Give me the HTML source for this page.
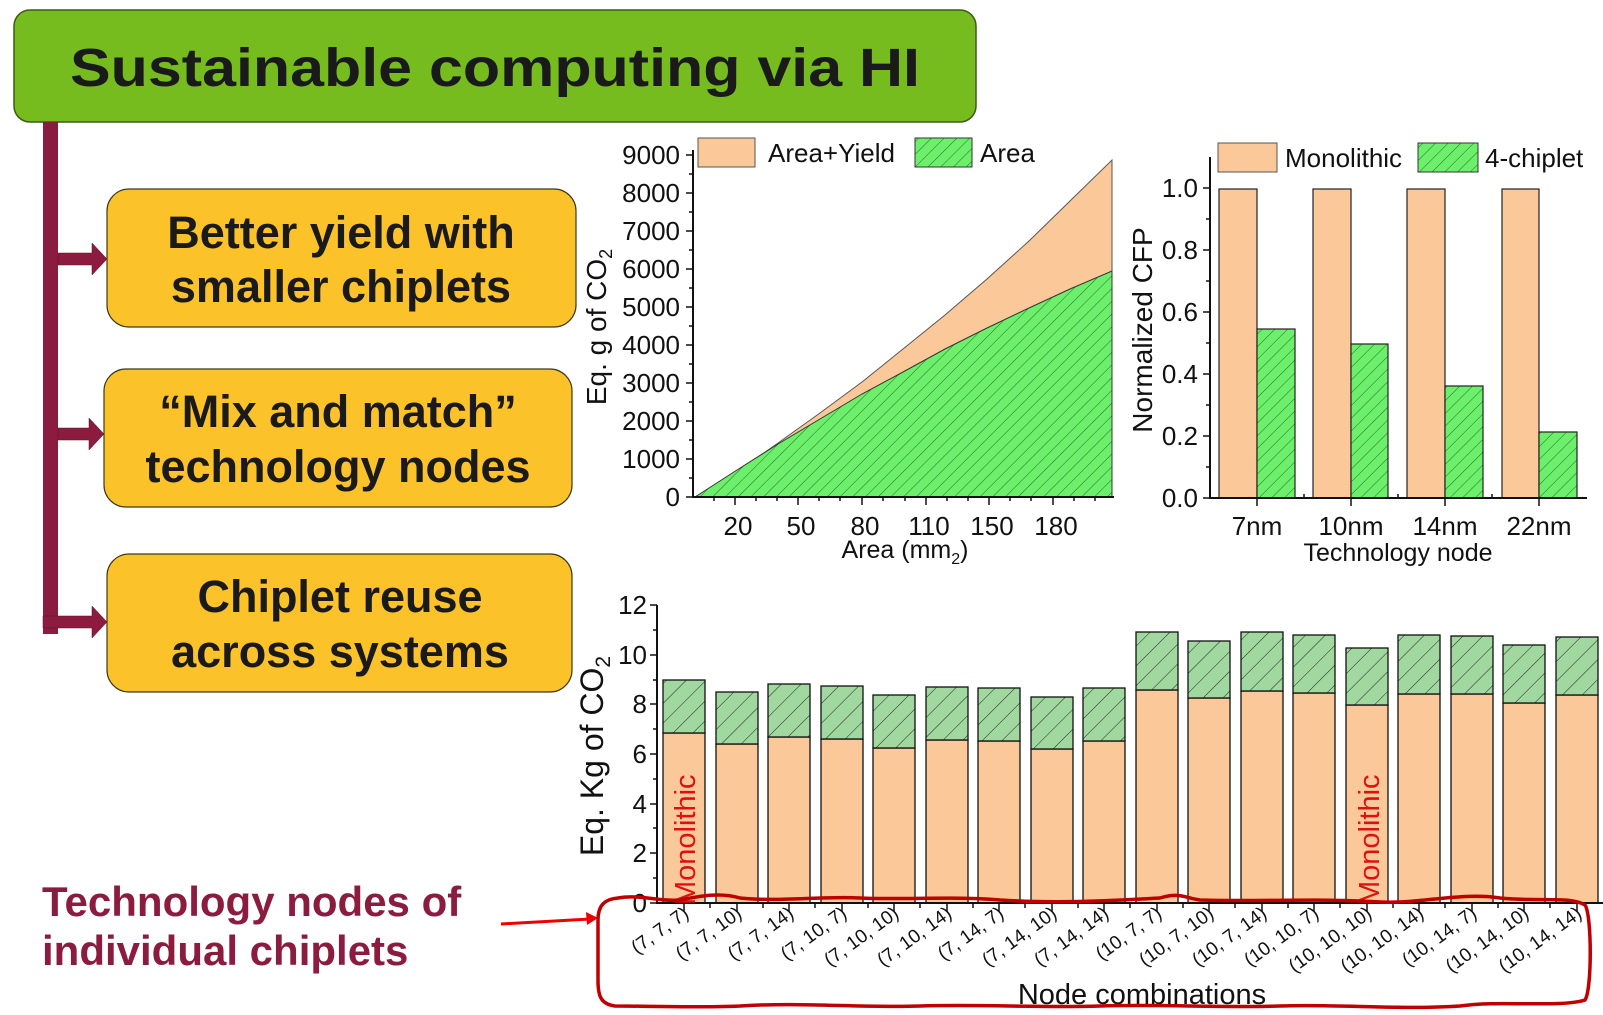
<!DOCTYPE html>
<html><head><meta charset="utf-8"><style>
html,body{margin:0;padding:0;background:#fff;}
svg{display:block;font-family:"Liberation Sans",Arial,sans-serif;}
</style></head><body>
<svg width="1603" height="1015" viewBox="0 0 1603 1015" xmlns="http://www.w3.org/2000/svg">
<defs>
<pattern id="h1" patternUnits="userSpaceOnUse" width="9" height="9" patternTransform="rotate(45)">
<rect width="9" height="9" fill="#6cf06c"/><line x1="0" y1="0" x2="0" y2="9" stroke="#2a6a2a" stroke-width="1"/></pattern>
<pattern id="h2" patternUnits="userSpaceOnUse" width="14" height="14" patternTransform="rotate(45)">
<rect width="14" height="14" fill="#a0d8a0"/><line x1="0" y1="0" x2="0" y2="14" stroke="#222" stroke-width="1"/></pattern>
</defs>

<!-- Title -->
<rect x="14" y="10" width="962" height="112" rx="16" fill="#77bc1f" stroke="#3d5c14" stroke-width="1.5"/>
<text x="495" y="86" text-anchor="middle" font-size="54" font-weight="bold" fill="#1a1a1a" textLength="850" lengthAdjust="spacingAndGlyphs">Sustainable computing via HI</text>

<!-- trunk and arrows -->
<rect x="43" y="122" width="15" height="512" fill="#8b1c40"/>
<g fill="#8b1c40" stroke="#5a1028" stroke-width="0.5">
<path d="M58 253 H92 V243 L107 259 L92 275 V265 H58 Z"/>
<path d="M58 428 H89 V418 L104 434 L89 450 V440 H58 Z"/>
<path d="M43 616 H92 V606 L107 622 L92 638 V628 H43 Z"/>
</g>

<!-- Yellow boxes -->
<g fill="#fcc22a" stroke="#3a3a1a" stroke-width="1.2">
<rect x="107" y="189" width="469" height="138" rx="22"/>
<rect x="104" y="369" width="468" height="138" rx="22"/>
<rect x="107" y="554" width="465" height="138" rx="22"/>
</g>
<g font-size="45" font-weight="bold" fill="#1a1a1a" text-anchor="middle">
<text x="341" y="248">Better yield with</text>
<text x="341" y="302">smaller chiplets</text>
<text x="338" y="427">“Mix and match”</text>
<text x="338" y="482">technology nodes</text>
<text x="340" y="612">Chiplet reuse</text>
<text x="340" y="667">across systems</text>
</g>

<!-- Bottom-left label -->
<g font-size="42" font-weight="bold" fill="#8b1c40">
<text x="42" y="916">Technology nodes of</text>
<text x="42" y="965">individual chiplets</text>
</g>
<line x1="501" y1="924" x2="590" y2="919" stroke="#e00" stroke-width="3"/>
<path d="M598 918 L586 912 L587 925 Z" fill="#e00"/>

<!-- Chart 1 -->
<path d="M695 497 L737 472 L778 443 L820 413 L862 382 L903 349 L945 315 L987 279 L1029 241 L1070 201 L1112 160 L1112 497 Z" fill="#fbc89a" stroke="#555" stroke-width="1"/>
<path d="M695 497 L737 470 L778 444 L820 419 L862 394 L903 372 L945 349 L987 328 L1029 308 L1070 289 L1112 271 L1112 497 Z" fill="url(#h1)" stroke="#333" stroke-width="1"/>
<g stroke="#111" stroke-width="2" fill="none"><path d="M693 150 V497 H1114"/></g>
<g stroke="#111" stroke-width="1.5">
<path d="M686 155 H693 M686 193 H693 M686 231 H693 M686 269 H693 M686 307 H693 M686 345 H693 M686 383 H693 M686 421 H693 M686 459 H693 M686 497 H693"/>
<path d="M689 174 H693 M689 212 H693 M689 250 H693 M689 288 H693 M689 326 H693 M689 364 H693 M689 402 H693 M689 440 H693 M689 478 H693"/>
<path d="M735 497 V505 M798 497 V505 M862 497 V505 M926 497 V505 M989 497 V505 M1053 497 V505"/>
<path d="M714 497 V501 M756 497 V501 M777 497 V501 M819 497 V501 M840 497 V501 M883 497 V501 M905 497 V501 M947 497 V501 M968 497 V501 M1010 497 V501 M1031 497 V501 M1074 497 V501 M1095 497 V501"/>
</g>
<g font-size="26" fill="#111" text-anchor="end">
<text x="680" y="164">9000</text><text x="680" y="202">8000</text><text x="680" y="240">7000</text><text x="680" y="278">6000</text><text x="680" y="316">5000</text><text x="680" y="354">4000</text><text x="680" y="392">3000</text><text x="680" y="430">2000</text><text x="680" y="468">1000</text><text x="680" y="506">0</text>
</g>
<g font-size="26" fill="#111" text-anchor="middle">
<text x="738" y="535">20</text><text x="801" y="535">50</text><text x="865" y="535">80</text><text x="929" y="535">110</text><text x="992" y="535">150</text><text x="1056" y="535">180</text>
<text x="905" y="558" font-size="25">Area (mm<tspan font-size="16" dy="6">2</tspan><tspan dy="-6">)</tspan></text>
</g>
<text transform="translate(606,327) rotate(-90)" font-size="28" text-anchor="middle" fill="#111">Eq. g of CO<tspan font-size="18" dy="6">2</tspan></text>
<rect x="698" y="138" width="57" height="29" fill="#fbc89a" stroke="#555"/>
<text x="768" y="162" font-size="26" fill="#111">Area+Yield</text>
<rect x="915" y="138" width="57" height="29" fill="url(#h1)" stroke="#333"/>
<text x="980" y="162" font-size="26" fill="#111">Area</text>

<!-- Chart 2 -->
<g stroke="#222" stroke-width="1.2">
<rect x="1219" y="189" width="38" height="309" fill="#fbc89a"/>
<rect x="1313" y="189" width="38" height="309" fill="#fbc89a"/>
<rect x="1407" y="189" width="38" height="309" fill="#fbc89a"/>
<rect x="1502" y="189" width="37" height="309" fill="#fbc89a"/>
<rect x="1257" y="329" width="38" height="169" fill="url(#h1)"/>
<rect x="1351" y="344" width="37" height="154" fill="url(#h1)"/>
<rect x="1445" y="386" width="38" height="112" fill="url(#h1)"/>
<rect x="1539" y="432" width="38" height="66" fill="url(#h1)"/>
</g>
<g stroke="#111" stroke-width="2" fill="none"><path d="M1210 157 V498 H1587"/></g>
<g stroke="#111" stroke-width="1.5">
<path d="M1203 188 H1210 M1203 250 H1210 M1203 312 H1210 M1203 374 H1210 M1203 436 H1210 M1203 498 H1210"/>
<path d="M1206 219 H1210 M1206 281 H1210 M1206 343 H1210 M1206 405 H1210 M1206 467 H1210"/>
<path d="M1257 498 V506 M1351 498 V506 M1445 498 V506 M1539 498 V506 M1304 498 V494 M1398 498 V494 M1492 498 V494"/>
</g>
<g font-size="26" fill="#111" text-anchor="end">
<text x="1198" y="197">1.0</text><text x="1198" y="259">0.8</text><text x="1198" y="321">0.6</text><text x="1198" y="383">0.4</text><text x="1198" y="445">0.2</text><text x="1198" y="507">0.0</text>
</g>
<g font-size="26" fill="#111" text-anchor="middle">
<text x="1257" y="535">7nm</text><text x="1351" y="535">10nm</text><text x="1445" y="535">14nm</text><text x="1539" y="535">22nm</text>
<text x="1398" y="561" font-size="25">Technology node</text>
</g>
<text transform="translate(1152,330) rotate(-90)" font-size="28" text-anchor="middle" fill="#111">Normalized CFP</text>
<rect x="1218" y="143" width="59" height="29" fill="#fbc89a" stroke="#555"/>
<text x="1285" y="167" font-size="26" fill="#111">Monolithic</text>
<rect x="1418" y="143" width="60" height="29" fill="url(#h1)" stroke="#333"/>
<text x="1485" y="167" font-size="26" fill="#111">4-chiplet</text>

<!-- Bottom chart -->
<g stroke="#111" stroke-width="1.3">
<rect x="663" y="733" width="42" height="170" fill="#fbc89a"/><rect x="663" y="680" width="42" height="53" fill="url(#h2)"/>
<rect x="716" y="744" width="42" height="159" fill="#fbc89a"/><rect x="716" y="692" width="42" height="52" fill="url(#h2)"/>
<rect x="768" y="737" width="42" height="166" fill="#fbc89a"/><rect x="768" y="684" width="42" height="53" fill="url(#h2)"/>
<rect x="821" y="739" width="42" height="164" fill="#fbc89a"/><rect x="821" y="686" width="42" height="53" fill="url(#h2)"/>
<rect x="873" y="748" width="42" height="155" fill="#fbc89a"/><rect x="873" y="695" width="42" height="53" fill="url(#h2)"/>
<rect x="926" y="740" width="42" height="163" fill="#fbc89a"/><rect x="926" y="687" width="42" height="53" fill="url(#h2)"/>
<rect x="978" y="741" width="42" height="162" fill="#fbc89a"/><rect x="978" y="688" width="42" height="53" fill="url(#h2)"/>
<rect x="1031" y="749" width="42" height="154" fill="#fbc89a"/><rect x="1031" y="697" width="42" height="52" fill="url(#h2)"/>
<rect x="1083" y="741" width="42" height="162" fill="#fbc89a"/><rect x="1083" y="688" width="42" height="53" fill="url(#h2)"/>
<rect x="1136" y="690" width="42" height="213" fill="#fbc89a"/><rect x="1136" y="632" width="42" height="58" fill="url(#h2)"/>
<rect x="1188" y="698" width="42" height="205" fill="#fbc89a"/><rect x="1188" y="641" width="42" height="57" fill="url(#h2)"/>
<rect x="1241" y="691" width="42" height="212" fill="#fbc89a"/><rect x="1241" y="632" width="42" height="59" fill="url(#h2)"/>
<rect x="1293" y="693" width="42" height="210" fill="#fbc89a"/><rect x="1293" y="635" width="42" height="58" fill="url(#h2)"/>
<rect x="1346" y="705" width="42" height="198" fill="#fbc89a"/><rect x="1346" y="648" width="42" height="57" fill="url(#h2)"/>
<rect x="1398" y="694" width="42" height="209" fill="#fbc89a"/><rect x="1398" y="635" width="42" height="59" fill="url(#h2)"/>
<rect x="1451" y="694" width="42" height="209" fill="#fbc89a"/><rect x="1451" y="636" width="42" height="58" fill="url(#h2)"/>
<rect x="1503" y="703" width="42" height="200" fill="#fbc89a"/><rect x="1503" y="645" width="42" height="58" fill="url(#h2)"/>
<rect x="1556" y="695" width="42" height="208" fill="#fbc89a"/><rect x="1556" y="637" width="42" height="58" fill="url(#h2)"/>
</g>
<g stroke="#111" stroke-width="2" fill="none"><path d="M657 605 V903 H1603"/></g>
<g stroke="#111" stroke-width="1.5">
<path d="M650 605 H657 M650 655 H657 M650 704 H657 M650 754 H657 M650 804 H657 M650 853 H657 M650 903 H657"/>
<path d="M653 630 H657 M653 680 H657 M653 729 H657 M653 779 H657 M653 828 H657 M653 878 H657"/>
<path d="M684 903 V911 M737 903 V911 M789 903 V911 M842 903 V911 M894 903 V911 M947 903 V911 M999 903 V911 M1052 903 V911 M1104 903 V911 M1157 903 V911 M1209 903 V911 M1262 903 V911 M1314 903 V911 M1367 903 V911 M1419 903 V911 M1472 903 V911 M1524 903 V911 M1577 903 V911"/>
<path d="M710 903 V908 M763 903 V908 M815 903 V908 M868 903 V908 M920 903 V908 M973 903 V908 M1025 903 V908 M1078 903 V908 M1130 903 V908 M1183 903 V908 M1235 903 V908 M1288 903 V908 M1340 903 V908 M1393 903 V908 M1445 903 V908 M1498 903 V908 M1550 903 V908"/>
</g>
<g font-size="26" fill="#111" text-anchor="end">
<text x="647" y="614">12</text><text x="647" y="664">10</text><text x="647" y="713">8</text><text x="647" y="763">6</text><text x="647" y="813">4</text><text x="647" y="862">2</text><text x="647" y="912">0</text>
</g>
<text transform="translate(603,756) rotate(-90)" font-size="32" text-anchor="middle" fill="#111">Eq. Kg of CO<tspan font-size="21" dy="7">2</tspan></text>
<text transform="translate(695,905) rotate(-90)" font-size="29" fill="#e01010">Monolithic</text>
<text transform="translate(1379,905) rotate(-90)" font-size="29" fill="#e01010">Monolithic</text>

<g font-size="19" fill="#111" text-anchor="end">
<text transform="translate(690,916) rotate(-36)">(7, 7, 7)</text>
<text transform="translate(743,916) rotate(-36)">(7, 7, 10)</text>
<text transform="translate(795,916) rotate(-36)">(7, 7, 14)</text>
<text transform="translate(848,916) rotate(-36)">(7, 10, 7)</text>
<text transform="translate(900,916) rotate(-36)">(7, 10, 10)</text>
<text transform="translate(953,916) rotate(-36)">(7, 10, 14)</text>
<text transform="translate(1005,916) rotate(-36)">(7, 14, 7)</text>
<text transform="translate(1058,916) rotate(-36)">(7, 14, 10)</text>
<text transform="translate(1110,916) rotate(-36)">(7, 14, 14)</text>
<text transform="translate(1163,916) rotate(-36)">(10, 7, 7)</text>
<text transform="translate(1215,916) rotate(-36)">(10, 7, 10)</text>
<text transform="translate(1268,916) rotate(-36)">(10, 7, 14)</text>
<text transform="translate(1320,916) rotate(-36)">(10, 10, 7)</text>
<text transform="translate(1373,916) rotate(-36)">(10, 10, 10)</text>
<text transform="translate(1425,916) rotate(-36)">(10, 10, 14)</text>
<text transform="translate(1478,916) rotate(-36)">(10, 14, 7)</text>
<text transform="translate(1530,916) rotate(-36)">(10, 14, 10)</text>
<text transform="translate(1583,916) rotate(-36)">(10, 14, 14)</text>
</g>
<text x="1142" y="1004" font-size="29" text-anchor="middle" fill="#111">Node combinations</text>

<!-- Red loop -->
<path d="M618 898 C640 894 660 902 680 900 C700 896 720 892 740 898 C780 902 820 896 860 898 C900 900 960 896 1000 900 C1060 904 1120 900 1160 898 C1180 892 1185 898 1200 900 C1260 902 1320 898 1380 902 C1420 904 1460 892 1500 898 C1540 902 1570 896 1585 905 C1592 915 1592 990 1585 1000 C1560 1008 1500 1000 1460 1006 C1400 1010 1340 1004 1280 1006 C1220 1008 1160 1004 1100 1006 C1040 1008 980 1004 920 1006 C860 1008 800 1002 740 1006 C690 1008 650 1006 615 1006 C600 1004 598 995 598 980 L598 920 C598 905 605 899 618 898 Z" fill="none" stroke="#c00000" stroke-width="3.5"/>
</svg>
</body></html>
